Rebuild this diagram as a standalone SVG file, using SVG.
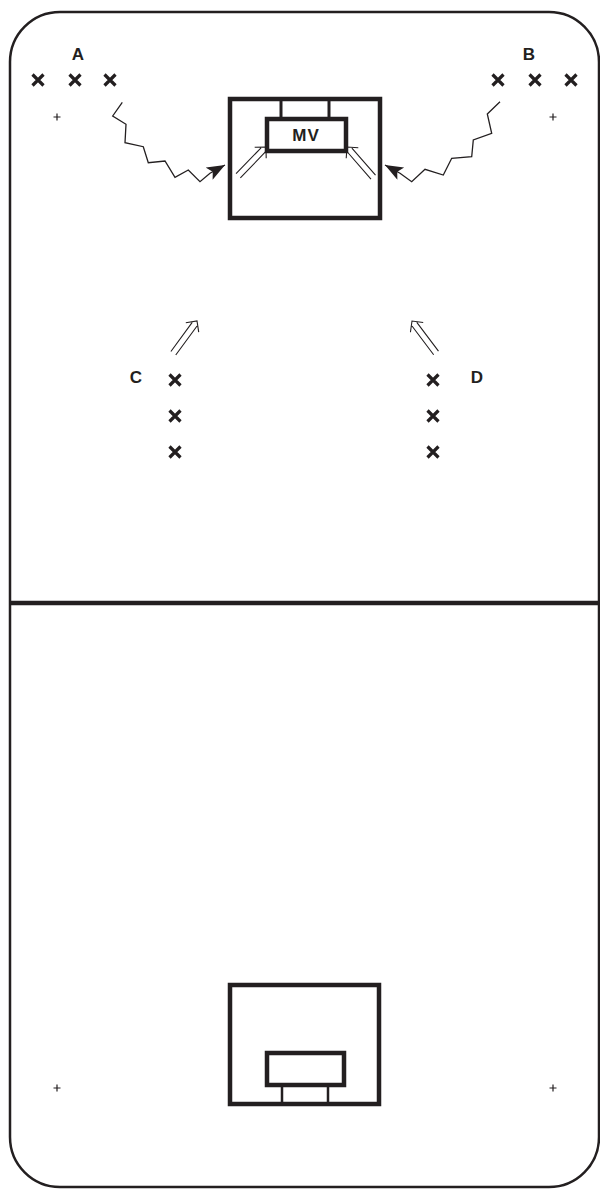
<svg xmlns="http://www.w3.org/2000/svg" xmlns:xlink="http://www.w3.org/1999/xlink" width="600" height="1189" viewBox="0 0 600 1189">
<style>
.court{fill:none;stroke:#231f20;stroke-width:2.5}
.thick{fill:none;stroke:#231f20;stroke-width:4.5}
.leg{fill:none;stroke:#231f20;stroke-width:3}
.x{fill:none;stroke:#231f20;stroke-width:3.2}
.plus{fill:none;stroke:#231f20;stroke-width:1.2}
.zig{fill:none;stroke:#231f20;stroke-width:1.3;stroke-linejoin:miter}
.dbl{fill:none;stroke:#231f20;stroke-width:1.1}
.lbl{font-family:"Liberation Sans",Arial,sans-serif;font-size:16px;font-weight:bold;fill:#231f20;text-anchor:middle}
</style>
<defs>
<path id="xm" d="M-5.5,-5.5 L5.5,5.5 M5.5,-5.5 L-5.5,5.5"/>
<path id="pl" d="M-3.5,0 L3.5,0 M0,-3.5 L0,3.5"/>
<path id="dbl" d="M0,-3 L36,-3 M0,3 L36,3 M32,-8 L40,0 L32,8"/>
<marker id="ah" markerUnits="userSpaceOnUse" markerWidth="20" markerHeight="16" refX="18" refY="7" orient="auto">
<path d="M0,0 L18,7 L0,14 L4,7 z" fill="#231f20"/>
</marker>
</defs>
<rect width="600" height="1189" fill="#fff"/>
<g id="court">
<rect class="court" x="10" y="12" width="589" height="1175" rx="50" ry="50"/>
<line class="thick" x1="10" y1="603" x2="599" y2="603"/>
<use class="plus" href="#pl" x="57" y="117"/>
<use class="plus" href="#pl" x="553" y="117"/>
<use class="plus" href="#pl" x="57" y="1088"/>
<use class="plus" href="#pl" x="553" y="1088"/>
</g>
<g id="goal-top">
<rect class="thick" x="230" y="99" width="150" height="119"/>
<line class="leg" x1="281" y1="99" x2="281" y2="119"/>
<line class="leg" x1="329" y1="99" x2="329" y2="119"/>
<rect class="thick" x="267" y="119" width="79" height="32" fill="#fff"/>
<text class="lbl" x="306" y="141" style="font-size:17px;letter-spacing:1px">MV</text>
</g>
<g id="goal-bottom">
<rect class="thick" x="230" y="985" width="149" height="119"/>
<line class="leg" x1="282" y1="1085" x2="282" y2="1104" style="stroke-width:2.5"/>
<line class="leg" x1="328" y1="1085" x2="328" y2="1104" style="stroke-width:2.5"/>
<rect class="thick" x="267" y="1053" width="77" height="32" fill="#fff"/>
</g>
<g id="group-A">
<text class="lbl" x="78" y="60" style="font-size:17px">A</text>
<use class="x" href="#xm" x="38" y="80"/>
<use class="x" href="#xm" x="75" y="80"/>
<use class="x" href="#xm" x="110" y="80"/>
</g>
<g id="group-B">
<text class="lbl" x="529" y="60" style="font-size:17px">B</text>
<use class="x" href="#xm" x="498" y="80"/>
<use class="x" href="#xm" x="535" y="80"/>
<use class="x" href="#xm" x="571" y="80"/>
</g>
<g id="group-C">
<text class="lbl" x="136" y="383" style="font-size:17px">C</text>
<use class="x" href="#xm" x="175" y="380"/>
<use class="x" href="#xm" x="175" y="416"/>
<use class="x" href="#xm" x="175" y="452"/>
</g>
<g id="group-D">
<text class="lbl" x="477" y="383" style="font-size:17px">D</text>
<use class="x" href="#xm" x="433" y="380"/>
<use class="x" href="#xm" x="433" y="416"/>
<use class="x" href="#xm" x="433" y="452"/>
</g>
<g id="connectors">
<polyline class="zig" marker-end="url(#ah)" points="122.3,102.3 112.7,116 126,124.3 125,142.7 143.3,146.7 148.3,162.7 165,161 175,177.3 188.3,170 200,181.7 210,173.3 225,165"/>
<polyline class="zig" marker-end="url(#ah)" points="500,101.7 487.3,114 491.7,133.3 473.3,140 471.7,156.7 451.7,158.3 443.3,175 425,169.3 411.7,181.7 400,173.3 385,165"/>
<use class="dbl" href="#dbl" transform="translate(266,147) rotate(-46) translate(-40,0)"/>
<use class="dbl" href="#dbl" transform="translate(347,147) rotate(-131) translate(-40,0)"/>
<use class="dbl" href="#dbl" transform="translate(197,321) rotate(-53.7) translate(-40,0)"/>
<use class="dbl" href="#dbl" transform="translate(412,321) rotate(-127) translate(-40,0)"/>
</g>
</svg>
